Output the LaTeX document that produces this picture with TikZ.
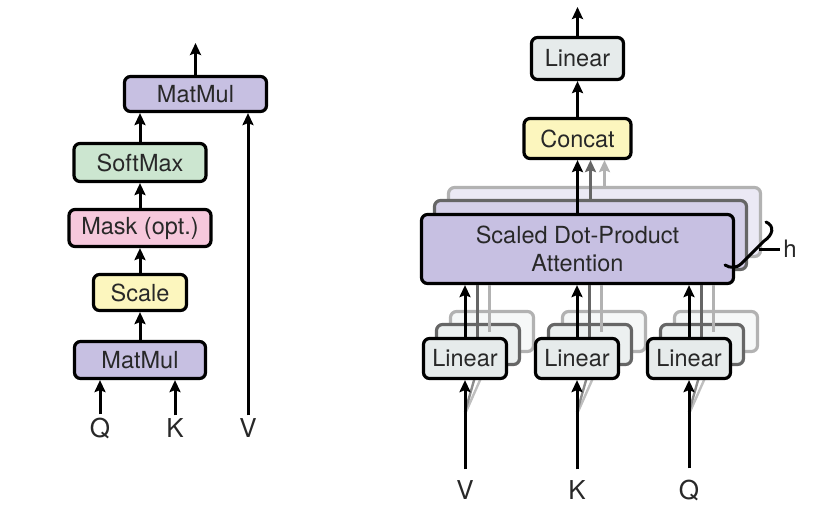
\documentclass[tikz,border=0pt]{standalone}
\usepackage{fontspec}
\setmainfont{TeX Gyre Heros}
\usetikzlibrary{arrows.meta, positioning, calc}
\definecolor{mmpurple}{RGB}{199,192,226}
\definecolor{smgreen}{RGB}{204,230,208}
\definecolor{maskpink}{RGB}{246,200,220}
\definecolor{scyellow}{RGB}{252,246,190}
\definecolor{lingray}{RGB}{230,235,235}
\definecolor{ink}{RGB}{40,40,40}

\begin{document}
\begin{tikzpicture}[x=1pt, y=-1pt,
  blk/.style={draw=black, line width=3.2pt, rounded corners=6pt, inner sep=0pt,
    font=\fontsize{23.5}{28}\selectfont, text=ink, align=center},
  copyb/.style={blk, draw=black!60},
  copyc/.style={blk, draw=black!30},
  arr/.style={line width=3pt, -{Stealth[length=12pt,width=11pt,inset=2pt]}},
  lbl/.style={font=\fontsize{26}{28}\selectfont, text=ink, inner sep=3pt},
  linbox/.style={minimum width=83pt, minimum height=40pt}
]
  \useasboundingbox (0,0) rectangle (837,528);

  % Scaled dot-product attention
  \node[blk, fill=mmpurple, minimum width=142pt, minimum height=35pt] (mm2) at (195.5,94) {MatMul};
  \node[blk, fill=smgreen, minimum width=132pt, minimum height=38pt] (smax) at (140,162.5) {SoftMax};
  \node[blk, fill=maskpink, minimum width=142pt, minimum height=37pt] (mask) at (140,228) {Mask (opt.)};
  \node[blk, fill=scyellow, minimum width=93pt, minimum height=36pt] (scale) at (140,292.5) {Scale};
  \node[blk, fill=mmpurple, minimum width=131pt, minimum height=37pt] (mm1) at (140,360) {MatMul};
  \node[lbl] (q1) at (100,428) {Q};
  \node[lbl] (k1) at (175,428) {K};
  \node[lbl] (v1) at (248,428) {V};
  \coordinate (out1) at (195.5,43);

  \draw[arr] (q1.north) -- (q1.north |- mm1.south);
  \draw[arr] (k1.north) -- (k1.north |- mm1.south);
  \draw[arr] (mm1) -- (scale);
  \draw[arr] (scale) -- (mask);
  \draw[arr] (mask) -- (smax);
  \draw[arr] (smax.north) -- (smax.north |- mm2.south);
  \draw[arr] (v1.north) -- (v1.north |- mm2.south);
  \draw[arr] (mm2) -- (out1);

  % Multi-head attention
  \node[copyc, fill=mmpurple!35, minimum width=312pt, minimum height=69pt] (sdpac) at (604.5,222) {};
  \node[copyb, fill=mmpurple!75, minimum width=312pt, minimum height=69pt] (sdpab) at (590.5,235) {};
  \node[blk, fill=mmpurple, minimum width=312pt, minimum height=69pt] (sdpa) at (577.5,249) {Scaled Dot-Product\\Attention};
  \node[blk, fill=scyellow, minimum width=107pt, minimum height=40pt] (concat) at (577.5,138.5) {Concat};
  \node[blk, fill=lingray, minimum width=92pt, minimum height=42pt] (lin4) at (577.5,58.5) {Linear};
  \coordinate (out2) at (577.5,7);

  \foreach \x/\n/\t in {465/v/V, 577/k/K, 689/q/Q} {
    \node[copyc, linbox, fill=lingray!35] (lin\n c) at (\x+27,331.5) {};
    \node[copyb, linbox, fill=lingray!75] (lin\n b) at (\x+13,344.5) {};
    \draw[line width=2.4pt, black!25] (\x,414) -- (lin\n c.south);
    \draw[line width=2.4pt, black!45] (\x,412) -- (lin\n b.south);
    \draw[line width=3pt, black!30] (\x+24,331.5) -- (\x+24,285);
    \draw[line width=3pt, black!60] (\x+12,344.5) -- (\x+12,285);
    \node[blk, linbox, fill=lingray] (lin\n) at (\x,358.5) {Linear};
    \node[lbl] (l\n) at (\x,490) {\t};
    \draw[arr, shorten <=8pt] (l\n) -- (lin\n);
    \draw[arr] (lin\n) -- (lin\n |- sdpa.south);
  }

  \draw[arr, black!30] (sdpac) -- (sdpac |- concat.south);
  \draw[arr, black!60] (sdpab) -- (sdpab |- concat.south);
  \draw[arr] (sdpa) -- (concat);
  \draw[arr] (concat) -- (lin4);
  \draw[arr] (lin4) -- (out2);

  % h brace
  \node[lbl, font=\fontsize{24}{26}\selectfont] (h) at (790,249) {h};
  \coordinate (hb) at (759,249);
  \draw[line width=3pt, line cap=round] (766,222) .. controls (775,226) and (773,235) .. (764,241)
    -- (742,263) .. controls (736,269) and (730,268) .. (725,265);
  \draw[line width=3pt] (hb) -- (h.west);
\end{tikzpicture}
\end{document}
